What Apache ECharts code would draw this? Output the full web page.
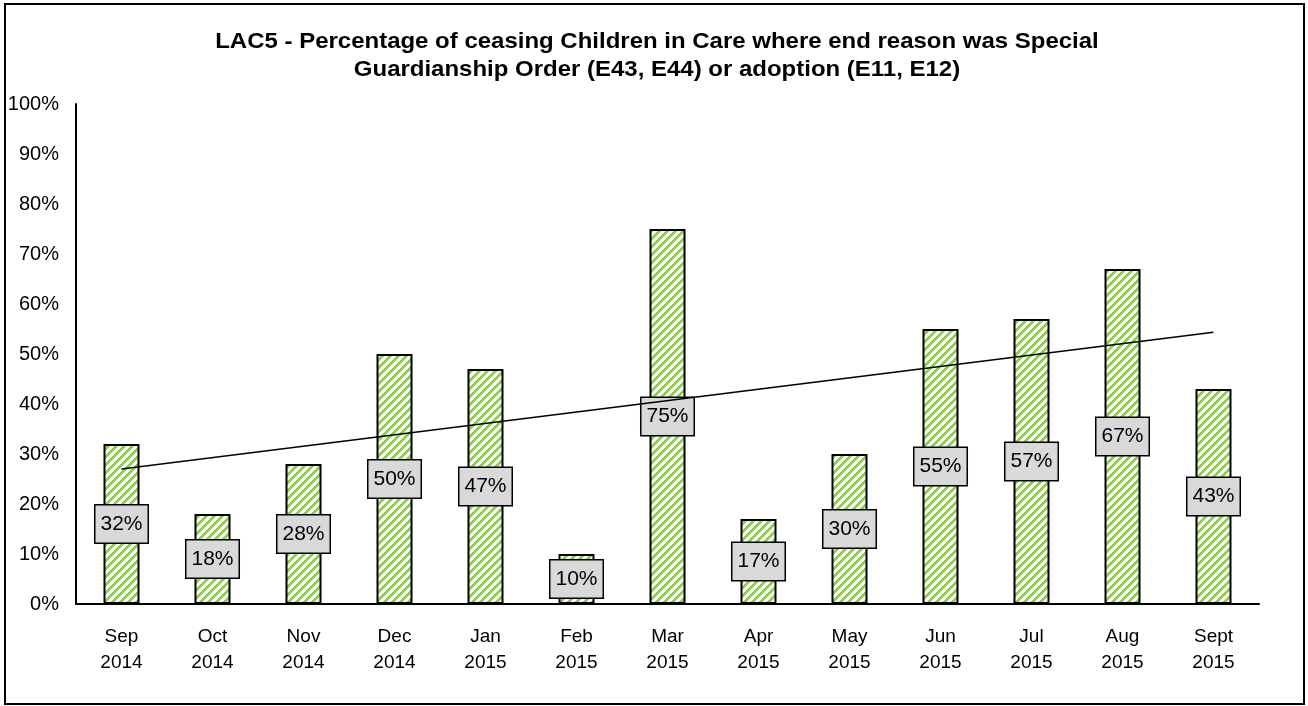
<!DOCTYPE html>
<html>
<head>
<meta charset="utf-8">
<title>LAC5</title>
<script src="https://cdn.jsdelivr.net/npm/echarts@6/dist/echarts.min.js"></script>
<style>
  html, body { margin: 0; padding: 0; background: #fff; }
  #chart { width: 1308px; height: 706px; }
</style>
</head>
<body>
<div id="chart"></div>
<script>
// Months and year labels for the category axis
const months = ['Sep', 'Oct', 'Nov', 'Dec', 'Jan', 'Feb', 'Mar', 'Apr', 'May', 'Jun', 'Jul', 'Aug', 'Sept'];
const years = ['2014', '2014', '2014', '2014', '2015', '2015', '2015', '2015', '2015', '2015', '2015', '2015', '2015'];
// Percentage of ceasing children in care leaving via SGO or adoption
const percentValues = [32, 18, 28, 50, 47, 10, 75, 17, 30, 55, 57, 67, 43];
// Value axis ticks
const yTicks = [0, 10, 20, 30, 40, 50, 60, 70, 80, 90, 100];

const chartTitle = 'LAC5 - Percentage of ceasing Children in Care where end reason was Special\nGuardianship Order (E43, E44) or adoption (E11, E12)';

const categories = months.map((m, i) => m + '\n' + years[i]);

// Ordinary least-squares linear trendline over the monthly values
function linearTrend(values) {
  const n = values.length;
  const mx = (n - 1) / 2;
  const my = values.reduce((a, b) => a + b, 0) / n;
  let sxy = 0, sxx = 0;
  values.forEach((v, i) => { sxy += (i - mx) * (v - my); sxx += (i - mx) * (i - mx); });
  const slope = sxy / sxx;
  const icpt = my - slope * mx;
  return [[0, icpt], [n - 1, icpt + slope * (n - 1)]];
}

// Green diagonal hatch used to fill the bars
function hatchPattern() {
  const size = 8;
  const c = document.createElement('canvas');
  c.width = size; c.height = size;
  const ctx = c.getContext('2d');
  const img = ctx.createImageData(size, size);
  for (let y = 0; y < size; y++) {
    for (let x = 0; x < size; x++) {
      const k = (y * size + x) * 4;
      const on = ((x + y) % size) < 4;
      img.data[k] = on ? 0x92 : 0xff;
      img.data[k + 1] = on ? 0xd0 : 0xff;
      img.data[k + 2] = on ? 0x50 : 0xff;
      img.data[k + 3] = 255;
    }
  }
  ctx.putImageData(img, 0, 0);
  return c;
}

const chart = echarts.init(document.getElementById('chart'), null, { renderer: 'canvas' });
const axisFont = 'Liberation Sans, Arial, sans-serif';

chart.setOption({
  animation: false,
  backgroundColor: '#fff',
  graphic: [
    {
      type: 'rect',
      shape: { x: 5, y: 4, width: 1299, height: 700 },
      style: { fill: 'none', stroke: '#000', lineWidth: 2 },
      silent: true
    },
    {
      // two-line bold heading, slightly widened
      type: 'text',
      x: 657,
      y: 56,
      scaleX: 1.09,
      silent: true,
      style: {
        text: chartTitle,
        fill: '#000',
        textAlign: 'center',
        textVerticalAlign: 'middle',
        font: 'bold 22px "Liberation Sans", Arial, sans-serif',
        lineHeight: 28
      }
    }
  ],
  grid: { left: 76, right: 49, top: 104, bottom: 102, containLabel: false },
  xAxis: {
    type: 'category',
    data: categories,
    axisLine: { show: true, lineStyle: { color: '#000', width: 2 } },
    axisTick: { show: false },
    axisLabel: {
      color: '#000',
      fontFamily: axisFont,
      fontSize: 19,
      lineHeight: 26,
      margin: 20,
      interval: 0
    }
  },
  yAxis: {
    type: 'value',
    min: yTicks[0],
    max: yTicks[yTicks.length - 1],
    interval: 10,
    splitLine: { show: false },
    axisLine: { show: true, lineStyle: { color: '#000', width: 2 } },
    axisTick: { show: false },
    axisLabel: {
      color: '#000',
      fontFamily: axisFont,
      fontSize: 20,
      margin: 17,
      formatter: v => v + '%'
    }
  },
  series: [
    {
      type: 'bar',
      data: percentValues,
      barWidth: 36,
      itemStyle: {
        color: { image: hatchPattern(), repeat: 'repeat' },
        borderColor: '#000',
        borderWidth: 2
      },
      label: {
        show: true,
        position: 'inside',
        formatter: p => Math.round(p.value) + '%',
        color: '#000',
        fontFamily: axisFont,
        fontSize: 21,
        lineHeight: 23,
        backgroundColor: '#d9d9d9',
        borderColor: '#000',
        borderWidth: 1.5,
        padding: [8, 5, 6, 5]
      },
      z: 2
    },
    {
      type: 'line',
      data: linearTrend(percentValues),
      showSymbol: false,
      symbol: 'none',
      lineStyle: { color: '#000', width: 1.5 },
      z: 3,
      silent: true
    }
  ]
});
</script>
</body>
</html>
